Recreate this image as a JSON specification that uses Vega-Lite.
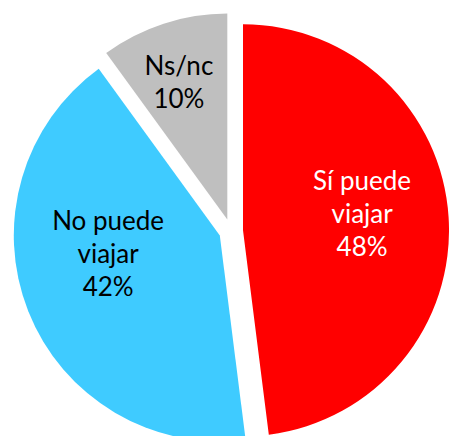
{
  "$schema": "https://vega.github.io/schema/vega-lite/v6.json",
  "width": 436,
  "height": 410,
  "autosize": "none",
  "padding": {"left": 13, "top": 26, "right": 0, "bottom": 0},
  "background": "white",
  "view": {"stroke": null},
  "data": {
    "values": [
      {"cat": "Sí puede viajar", "value": 48, "k": 1, "label": "Sí puede\nviajar\n48%"},
      {"cat": "No puede viajar", "value": 42, "k": 2, "label": "No puede\nviajar\n42%"},
      {"cat": "Ns/nc", "value": 10, "k": 3, "label": "Ns/nc\n10%"}
    ]
  },
  "encoding": {
    "theta": {"field": "value", "type": "quantitative", "stack": true},
    "order": {"field": "k", "type": "quantitative"},
    "color": {
      "field": "cat",
      "type": "nominal",
      "scale": {
        "domain": ["Sí puede viajar", "No puede viajar", "Ns/nc"],
        "range": ["#FF0000", "#3FCBFF", "#BFBFBF"]
      },
      "legend": null
    }
  },
  "layer": [
    {
      "mark": {"type": "arc", "outerRadius": 206, "xOffset": 12, "yOffset": -0.75},
      "encoding": {"opacity": {"condition": {"test": "datum.cat === 'Sí puede viajar'", "value": 1}, "value": 0}}
    },
    {
      "mark": {"type": "arc", "outerRadius": 206, "xOffset": -11.2, "yOffset": 4.4},
      "encoding": {"opacity": {"condition": {"test": "datum.cat === 'No puede viajar'", "value": 1}, "value": 0}}
    },
    {
      "mark": {"type": "arc", "outerRadius": 206, "xOffset": -3.7, "yOffset": -11.4},
      "encoding": {"opacity": {"condition": {"test": "datum.cat === 'Ns/nc'", "value": 1}, "value": 0}}
    },
    {
      "mark": {"type": "text", "radius": 132, "thetaOffset": -0.055, "dy": -33, "font": "Lato", "fontSize": 26, "lineHeight": 33, "lineBreak": "\n", "align": "center", "baseline": "middle"},
      "encoding": {
        "color": {"value": "white"},
        "text": {"condition": {"test": "datum.cat === 'Sí puede viajar'", "field": "label"}, "value": ""}
      }
    },
    {
      "mark": {"type": "text", "radius": 125, "thetaOffset": 0.192, "dy": -32, "font": "Lato", "fontSize": 26, "lineHeight": 33, "lineBreak": "\n", "align": "center", "baseline": "middle"},
      "encoding": {
        "color": {"value": "black"},
        "text": {"condition": {"test": "datum.cat === 'No puede viajar'", "field": "label"}, "value": ""}
      }
    },
    {
      "mark": {"type": "text", "radius": 156, "thetaOffset": -0.026, "dy": -17, "font": "Lato", "fontSize": 26, "lineHeight": 33, "lineBreak": "\n", "align": "center", "baseline": "middle"},
      "encoding": {
        "color": {"value": "black"},
        "text": {"condition": {"test": "datum.cat === 'Ns/nc'", "field": "label"}, "value": ""}
      }
    }
  ]
}
